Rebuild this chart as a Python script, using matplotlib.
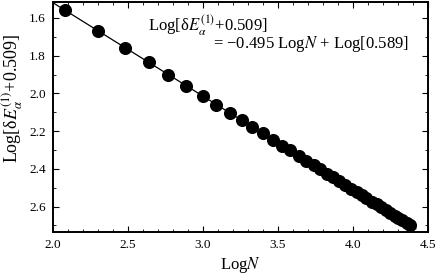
import matplotlib
matplotlib.use("Agg")
import matplotlib.pyplot as plt
import numpy as np
from matplotlib.ticker import MultipleLocator

# LogN values (N = 8, 10, ..., 80) and Log[dE+0.509]
log_n = [2.08, 2.30, 2.48, 2.64, 2.77, 2.89, 3.00, 3.09, 3.18, 3.26, 3.33, 3.40,
         3.47, 3.53, 3.58, 3.64, 3.69, 3.74, 3.78, 3.83, 3.87, 3.91, 3.95, 3.99,
         4.03, 4.06, 4.09, 4.13, 4.16, 4.19, 4.22, 4.25, 4.28, 4.30, 4.33, 4.36, 4.38]
log_de = [1.559, 1.668, 1.757, 1.836, 1.900, 1.960, 2.014, 2.059, 2.103, 2.143,
          2.177, 2.212, 2.247, 2.276, 2.301, 2.331, 2.356, 2.380, 2.400, 2.425,
          2.445, 2.464, 2.484, 2.504, 2.524, 2.539, 2.554, 2.573, 2.588, 2.603,
          2.618, 2.633, 2.648, 2.658, 2.672, 2.687, 2.697]

# fit from the annotation
slope = 0.495
offset = 0.529
fit_range = [2.0, 4.42]

plt.rcParams.update({
    "font.family": "Liberation Serif",
    "mathtext.fontset": "stix",
    "xtick.direction": "in",
    "ytick.direction": "in",
    "xtick.top": True,
    "ytick.right": True,
})

fig = plt.figure(figsize=(4.37, 2.75), dpi=100)
ax = fig.add_axes([0.121, 0.156, 0.858, 0.837])

fx = np.array(fit_range)
ax.plot(fx, slope * fx + offset, color='black', lw=0.9)
ax.plot(log_n, log_de, 'o', color='black', ms=8.4)

ax.set_xlim(2.0, 4.5)
ax.set_ylim(2.735, 1.515)
ax.xaxis.set_major_locator(MultipleLocator(0.5))
ax.xaxis.set_minor_locator(MultipleLocator(0.1))
ax.yaxis.set_major_locator(MultipleLocator(0.2))
ax.yaxis.set_minor_locator(MultipleLocator(0.1))
ax.xaxis.set_major_formatter(lambda v, p: f"{v:.1f}")
ax.yaxis.set_major_formatter(lambda v, p: f"{v:.1f}")
ax.tick_params(which='major', length=4, width=0.8, labelsize=9.5, pad=5)
ax.tick_params(which='minor', length=2.5, width=0.6)
for s in ax.spines.values():
    s.set_linewidth(1.4)

ax.set_xlabel(r"Log$N$", fontsize=12, labelpad=3)
ax.set_ylabel(r"Log[δ$E_{\alpha}^{(1)}$+0.509]", fontsize=13)
ax.yaxis.set_label_coords(-0.075, 0.58)

fig.text(148 / 437, 1 - 31 / 275, r"Log[δ$E_{\alpha}^{(1)}$+0.509]", fontsize=12)
fig.text(213 / 437, 1 - 48 / 275, r"= −0.495 Log$N$ + Log[0.589]", fontsize=12)

fig.savefig("out.png", dpi=100)
